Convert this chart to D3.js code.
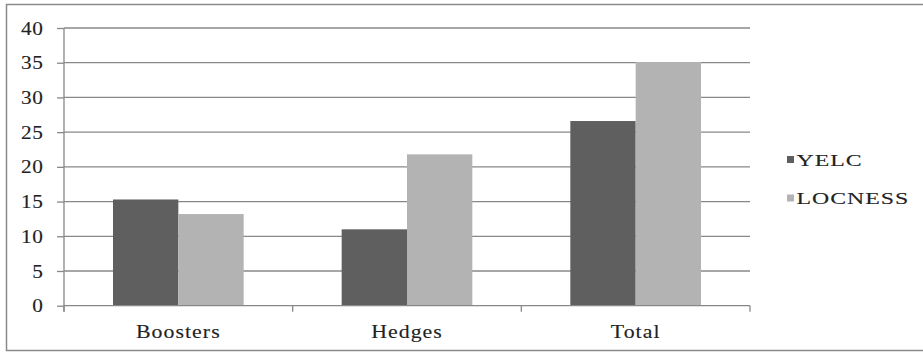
<!DOCTYPE html>
<html>
<head>
<meta charset="utf-8">
<script src="https://cdn.jsdelivr.net/npm/d3@7"></script>
<style>
  html, body { margin: 0; padding: 0; background: #fff; }
  svg { display: block; }
  svg text { font-family: 'Liberation Serif', 'Times New Roman', serif; }
</style>
</head>
<body>
<svg id="chart" width="923" height="355"></svg>
<script>
// Chart data
const categories = ["Boosters", "Hedges", "Total"];
const seriesNames = ["YELC", "LOCNESS"];
const yelcValues = [15.3, 11.0, 26.6];
const locnessValues = [13.2, 21.8, 35.1];
const yTicks = [0, 5, 10, 15, 20, 25, 30, 35, 40];
const seriesColors = ["#5f5f5f", "#b3b3b3"];

const seriesValues = [yelcValues, locnessValues];
const SERIF = "'Liberation Serif', 'Times New Roman', serif";
const INK = "#222";

const svg = d3.select("#chart");
const W = 923;
const plot = { left: 64, right: 750, top: 28, bottom: 305.7 };

// Shared text styling: serif, slightly widened glyphs
function styleText(sel, size, spacing) {
  sel.style("font-family", SERIF)
    .attr("font-size", size)
    .attr("letter-spacing", spacing + "px")
    .attr("fill", INK)
    .attr("stroke", INK).attr("stroke-width", 0.12);
}

// Outer frame
svg.append("rect")
  .attr("x", 6.5).attr("y", 4.5)
  .attr("width", W + 10).attr("height", 346)
  .attr("fill", "#fff")
  .attr("stroke", "#8a8a8a").attr("stroke-width", 1.5);

const x0 = d3.scaleBand().domain(categories).range([plot.left, plot.right]).padding(0);
const x1 = d3.scaleBand().domain(seriesNames).range([0, x0.bandwidth()])
  .paddingInner(0).paddingOuter(0.75);
const y = d3.scaleLinear().domain([0, 40]).range([plot.bottom, plot.top]);

// Horizontal gridlines
svg.append("g")
  .selectAll("line")
  .data(yTicks.filter(t => t > 0))
  .join("line")
  .attr("x1", plot.left).attr("x2", plot.right)
  .attr("y1", d => y(d)).attr("y2", d => y(d))
  .attr("stroke", "#888").attr("stroke-width", 1.3);

// Bars
const groups = svg.append("g")
  .selectAll("g")
  .data(categories)
  .join("g")
  .attr("transform", c => `translate(${x0(c)},0)`);

groups.selectAll("rect")
  .data((c, i) => seriesNames.map((s, j) => ({ s, j, v: seriesValues[j][i] })))
  .join("rect")
  .attr("x", d => x1(d.s))
  .attr("width", x1.bandwidth())
  .attr("y", d => y(d.v))
  .attr("height", d => y(0) - y(d.v))
  .attr("fill", d => seriesColors[d.j]);

// Y axis
const yAxis = d3.axisLeft(y).tickValues(yTicks).tickSize(7).tickPadding(13);
const gy = svg.append("g")
  .attr("transform", `translate(${plot.left},0)`)
  .call(yAxis);
gy.attr("font-family", SERIF).attr("font-size", 19);
gy.select(".domain").remove();
gy.selectAll(".tick line").attr("stroke", "#888").attr("stroke-width", 1.3);
gy.selectAll(".tick text")
  .call(styleText, 19, 0.6)
  .attr("x", 0)
  .attr("transform", "translate(-20.5,0) scale(1.12,1)");
svg.append("line")
  .attr("x1", plot.left).attr("x2", plot.left)
  .attr("y1", plot.top).attr("y2", plot.bottom + 6)
  .attr("stroke", "#888").attr("stroke-width", 1.3);

// X axis
svg.append("line")
  .attr("x1", plot.left).attr("x2", plot.right)
  .attr("y1", plot.bottom).attr("y2", plot.bottom)
  .attr("stroke", "#888").attr("stroke-width", 1.3);
const boundaries = categories.map(c => x0(c)).concat([plot.right]);
svg.append("g")
  .selectAll("line")
  .data(boundaries)
  .join("line")
  .attr("x1", d => d).attr("x2", d => d)
  .attr("y1", plot.bottom).attr("y2", plot.bottom + 6)
  .attr("stroke", "#888").attr("stroke-width", 1.3);
svg.append("g")
  .selectAll("text")
  .data(categories)
  .join("text")
  .attr("transform", c => `translate(${x0(c) + x0.bandwidth() / 2},338) scale(1.15,1)`)
  .attr("text-anchor", "middle")
  .call(styleText, 19, 0.9)
  .text(c => c);

// Legend
const legend = svg.append("g")
  .selectAll("g")
  .data(seriesNames)
  .join("g")
  .attr("transform", (s, i) => `translate(787,${165.5 + i * 38.5})`);
legend.append("rect")
  .attr("x", 0).attr("y", -9.5)
  .attr("width", 7).attr("height", 7)
  .attr("fill", (s, i) => seriesColors[i]);
legend.append("text")
  .attr("transform", "translate(9.5,0) scale(1.4,1)")
  .call(styleText, 17, 0.7)
  .text(s => s);
</script>
</body>
</html>
